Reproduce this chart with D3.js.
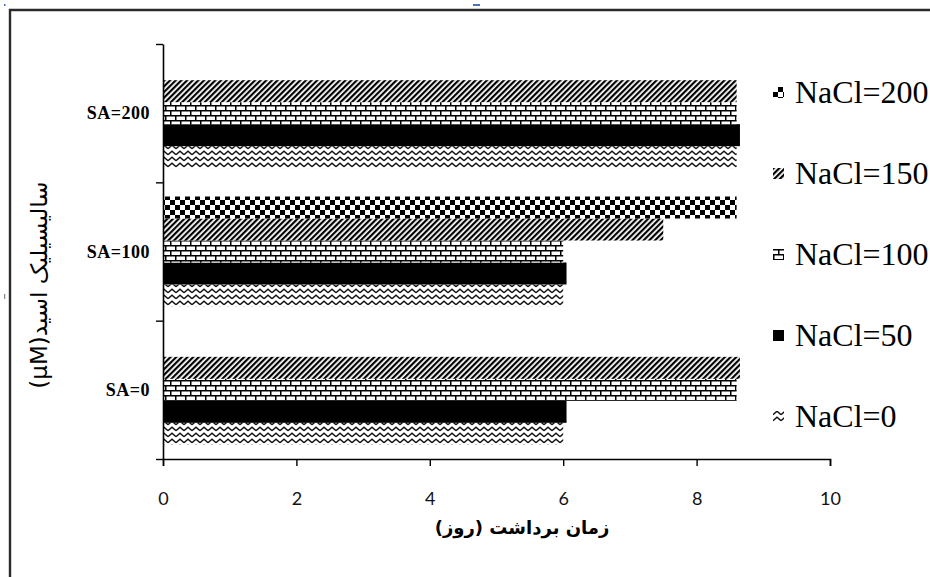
<!DOCTYPE html>
<html>
<head>
<meta charset="utf-8">
<script src="https://cdn.jsdelivr.net/npm/d3@7"></script>
<style>
  body { margin: 0; background: #fff; }
  svg { display: block; }
</style>
</head>
<body>
<div id="chart"></div>
<script>
// categories (bottom to top) and series values
const categories = ["SA=0", "SA=100", "SA=200"];
const seriesNames = ["NaCl=0", "NaCl=50", "NaCl=100", "NaCl=150", "NaCl=200"];
const nacl0   = [6.0, 6.0, 8.6];
const nacl50  = [6.05, 6.05, 8.65];
const nacl100 = [8.6, 6.0, 8.6];
const nacl150 = [8.65, 7.5, 8.6];
const nacl200 = [null, 8.6, null];
const xTicks = [0, 2, 4, 6, 8, 10];
const yTitle = "سالیسیلیک اسید(µM)";
const xTitle = "زمان برداشت (روز)";

const seriesValues = [nacl0, nacl50, nacl100, nacl150, nacl200];
const patternIds = ["p-zigzag", "p-solid", "p-brick", "p-diag", "p-check"];

const W = 930, H = 577;
const x0 = 163, x1 = 830, yTop = 44, yBot = 459;

const svg = d3.select("#chart").append("svg")
    .attr("width", W)
    .attr("height", H);

const defs = svg.append("defs");

// zigzag
const zz = defs.append("pattern").attr("id", "p-zigzag")
    .attr("patternUnits", "userSpaceOnUse").attr("width", 8).attr("height", 6);
zz.append("rect").attr("width", 8).attr("height", 6).attr("fill", "#fff");
zz.append("path").attr("d", "M0,4.8 L4,1.2 L8,4.8").attr("fill", "none")
    .attr("stroke", "#111").attr("stroke-width", 1.4);

// brick
const br = defs.append("pattern").attr("id", "p-brick")
    .attr("patternUnits", "userSpaceOnUse").attr("width", 10).attr("height", 10);
br.append("rect").attr("width", 10).attr("height", 10).attr("fill", "#fff");
br.append("path").attr("d", "M0,0.75 H10 M0,5.75 H10 M0.75,0 V5 M5.75,5 V10")
    .attr("stroke", "#000").attr("stroke-width", 1.5);

// dark upward diagonal
const dg = defs.append("pattern").attr("id", "p-diag")
    .attr("patternUnits", "userSpaceOnUse").attr("width", 4).attr("height", 4)
    .attr("patternTransform", "rotate(45)");
dg.append("rect").attr("width", 4).attr("height", 4).attr("fill", "#fff");
dg.append("rect").attr("width", 2.2).attr("height", 4).attr("fill", "#000");

// checkerboard
const ck = defs.append("pattern").attr("id", "p-check")
    .attr("patternUnits", "userSpaceOnUse").attr("width", 10).attr("height", 10);
ck.append("rect").attr("width", 10).attr("height", 10).attr("fill", "#fff");
ck.append("rect").attr("width", 5).attr("height", 5).attr("fill", "#000");
ck.append("rect").attr("x", 5).attr("y", 5).attr("width", 5).attr("height", 5).attr("fill", "#000");

const fills = patternIds.map(id => id === "p-solid" ? "#000" : `url(#${id})`);

// outer frame
svg.append("path")
    .attr("d", `M10,${H} V10 H${W}`)
    .attr("fill", "none").attr("stroke", "#2b2b2b").attr("stroke-width", 2.4);
svg.append("rect").attr("x", 473).attr("y", 4).attr("width", 7).attr("height", 2).attr("fill", "#4a72b8");
svg.append("rect").attr("x", 4).attr("y", 4).attr("width", 1.5).attr("height", 2).attr("fill", "#4a72b8");
svg.append("rect").attr("x", 4).attr("y", 294).attr("width", 1.2).attr("height", 5).attr("fill", "#888");

const x = d3.scaleLinear().domain([0, 10]).range([x0, x1]);

const y = d3.scaleBand()
    .domain(categories.slice().reverse())
    .range([yTop, yBot])
    .paddingInner(0.205)
    .paddingOuter(0.1025);

const ySub = d3.scaleBand()
    .domain(seriesNames.slice().reverse())
    .range([0, y.bandwidth()]);

const rows = [];
categories.forEach((c, ci) => {
    seriesNames.forEach((s, si) => {
        const v = seriesValues[si][ci];
        if (v != null) rows.push({ cat: c, name: s, idx: si, value: v });
    });
});

svg.append("g").selectAll("rect")
    .data(rows)
    .join("rect")
    .attr("x", x(0))
    .attr("y", d => y(d.cat) + ySub(d.name))
    .attr("width", d => x(d.value) - x(0))
    .attr("height", ySub.bandwidth())
    .attr("fill", d => fills[d.idx]);

// x axis
const xAxis = svg.append("g")
    .attr("transform", `translate(0,${yBot})`)
    .call(d3.axisBottom(x).tickValues(xTicks).tickSize(7).tickPadding(26).tickFormat(d3.format("d")));
xAxis.select(".domain").attr("stroke", "#000").attr("stroke-width", 1.6);
xAxis.selectAll(".tick line").attr("stroke", "#000").attr("stroke-width", 1.4);
xAxis.selectAll("text")
    .attr("font-family", "Lato, 'Open Sans', sans-serif")
    .attr("font-size", 18)
    .attr("fill", "#111");

// y axis: ticks at category boundaries
const yb = d3.scaleLinear().domain([0, categories.length]).range([yBot, yTop]);
const yAxis = svg.append("g")
    .attr("transform", `translate(${x0},0)`)
    .call(d3.axisLeft(yb).ticks(categories.length).tickSize(7).tickSizeOuter(0).tickFormat(""));
yAxis.select(".domain").attr("stroke", "#000").attr("stroke-width", 1.6);
yAxis.selectAll(".tick line").attr("stroke", "#000").attr("stroke-width", 1.4);

// category labels
svg.append("g").selectAll("text")
    .data(categories)
    .join("text")
    .attr("x", 150)
    .attr("y", d => y(d) + y.bandwidth() / 2)
    .attr("dy", "0.35em")
    .attr("text-anchor", "end")
    .attr("font-family", "'Liberation Serif', 'Times New Roman', serif")
    .attr("font-weight", "bold")
    .attr("font-size", 18)
    .attr("letter-spacing", 0.5)
    .text(d => d);

// axis titles
svg.append("text")
    .attr("x", 522)
    .attr("y", 534)
    .attr("text-anchor", "middle")
    .attr("font-family", "'DejaVu Sans', sans-serif")
    .attr("font-weight", "bold")
    .attr("font-size", 18)
    .attr("direction", "rtl")
    .text(xTitle);

svg.append("text")
    .attr("transform", "translate(47,285) rotate(-90)")
    .attr("text-anchor", "middle")
    .attr("direction", "rtl")
    .attr("font-family", "'DejaVu Sans', sans-serif")
    .attr("font-size", 23)
    .text(yTitle);

// legend, top to bottom
const legendOrder = seriesNames.map((s, i) => i).reverse();
const legend = svg.append("g").selectAll("g")
    .data(legendOrder)
    .join("g")
    .attr("transform", (d, i) => `translate(773,${92 + i * 81})`);
legend.append("rect")
    .attr("x", 0).attr("y", -5)
    .attr("width", 11).attr("height", 11)
    .attr("fill", d => fills[d]);
legend.append("text")
    .attr("x", 22)
    .attr("y", 0)
    .attr("dy", "0.35em")
    .attr("font-family", "'Liberation Serif', 'Times New Roman', serif")
    .attr("font-size", 32)
    .text(d => seriesNames[d]);
</script>
</body>
</html>
